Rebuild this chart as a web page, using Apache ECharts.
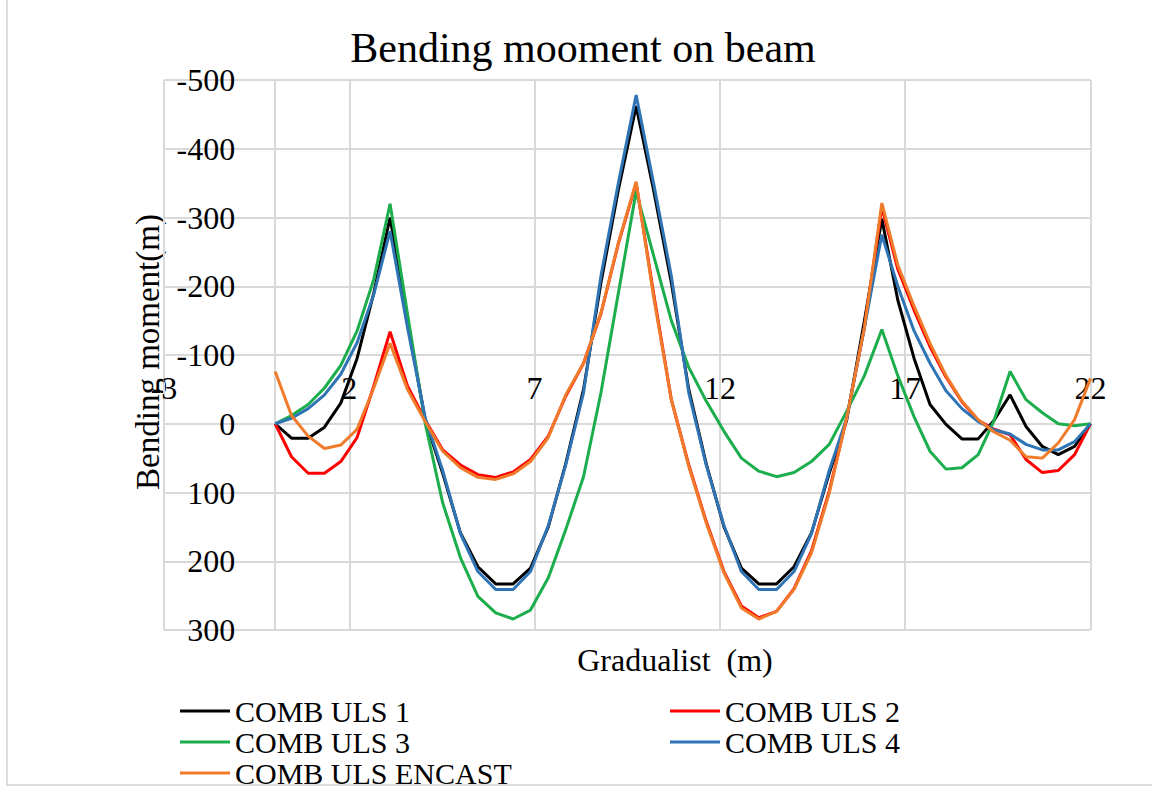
<!DOCTYPE html>
<html>
<head>
<meta charset="utf-8">
<title>Bending mooment on beam</title>
<script src="https://cdn.jsdelivr.net/npm/echarts@6/dist/echarts.min.js"></script>
<style>
  html, body { margin: 0; padding: 0; background: #ffffff; }
  #chart { width: 1152px; height: 789px; }
</style>
</head>
<body>
<div id="chart"></div>
<script>
// Stations along the beam (m)
const positions = [
  0, 0.44, 0.89, 1.33, 1.77, 2.21, 2.66, 3.10,
  3.57, 4.05, 4.52, 5.00, 5.47, 5.95, 6.42, 6.89, 7.37, 7.84, 8.32, 8.79, 9.26, 9.74,
  10.21, 10.69, 11.16, 11.63, 12.11, 12.58, 13.05, 13.53, 14.00, 14.47, 14.95, 15.42, 15.90, 16.37,
  16.80, 17.24, 17.67, 18.10, 18.53, 18.97, 19.40, 19.83,
  20.26, 20.70, 21.13, 21.57, 22.00
];

// Bending moment per load combination (negative = hogging)
const uls1 = [
  0, 21, 21, 5, -30, -95, -190, -300,
  -150, -5, 72, 159, 208, 233, 233, 210, 150, 58, -50, -205, -340, -462,
  -340, -205, -50, 58, 150, 210, 233, 233, 208, 159, 72, -5, -150, -298,
  -180, -95, -28, 1, 22, 22, -5, -42,
  4, 33, 45, 33, 0
];
const uls2 = [
  0, 48, 72, 72, 55, 20, -55, -134,
  -55, -5, 38, 60, 74, 78, 70, 52, 18, -40, -88, -160, -262, -350,
  -190, -35, 60, 142, 215, 265, 282, 273, 240, 185, 98, -8, -140, -315,
  -225, -165, -112, -68, -32, -5, 8, 16,
  52, 71, 68, 45, 0
];
const uls3 = [
  0, -12, -28, -52, -85, -135, -210, -320,
  -160, 0, 115, 195, 251, 275, 284, 271, 224, 154, 77, -45, -190, -338,
  -245, -150, -82, -33, 11, 50, 69, 77, 71, 55, 30, -18, -70, -137,
  -70, -10, 40, 66, 64, 45, -5, -76,
  -35, -16, 0, 3, 0
];
const uls4 = [
  0, -8, -22, -42, -72, -118, -188, -280,
  -140, -8, 68, 160, 215, 241, 241, 215, 148, 60, -45, -215, -350, -478,
  -350, -215, -45, 60, 148, 215, 241, 241, 215, 160, 68, -8, -140, -275,
  -200, -135, -88, -48, -22, -3, 9, 15,
  30, 38, 38, 26, 0
];
const ulsEncast = [
  -76, -12, 18, 36, 31, 8, -52, -117,
  -50, -3, 40, 64, 78, 81, 73, 55, 20, -42, -88, -161, -263, -352,
  -185, -35, 62, 144, 217, 268, 284, 273, 241, 188, 101, -8, -140, -321,
  -231, -171, -117, -70, -33, -6, 12, 24,
  48, 50, 28, -6, -66
];

const seriesNames = ['COMB ULS 1', 'COMB ULS 2', 'COMB ULS 3', 'COMB ULS 4', 'COMB ULS ENCAST'];
const seriesColors = ['#000000', '#ff0000', '#1cad4c', '#2f74b5', '#f07b2a'];
const seriesValues = [uls1, uls2, uls3, uls4, ulsEncast];

// Axis ranges and tick spacing
const xMin = -3, xMax = 22, xStep = 5;
const yMin = -500, yMax = 300, yStep = 100;

const FONT = '"Liberation Serif", "Times New Roman", serif';
const GRID = '#d9d9d9';

// Plot box
const W = 1152, H = 789;
const gridLeft = 164, gridRight = 61.5, gridTop = 80, gridBottom = 159;
const plotW = W - gridLeft - gridRight, plotH = H - gridTop - gridBottom;

// The two axes cross at the origin: shift each axis from its edge to the zero of the other one
const xAxisShift = -plotH * (0 - yMin) / (yMax - yMin);   // top edge down to y = 0
const yAxisShift = -plotW * (0 - xMin) / (xMax - xMin);   // left edge right to x = 0

const chart = echarts.init(document.getElementById('chart'), null, { renderer: 'svg' });

const series = seriesNames.map((name, k) => ({
  name: name,
  type: 'line',
  data: positions.map((x, i) => [x, seriesValues[k][i]]),
  symbol: 'none',
  smooth: false,
  lineStyle: { color: seriesColors[k], width: 3 },
  itemStyle: { color: seriesColors[k] },
  z: 3 + k
}));

const legendBase = {
  orient: 'horizontal', top: 696, width: 300, padding: 0,
  icon: 'rect', itemWidth: 50, itemHeight: 3, itemGap: 1,
  textStyle: { fontFamily: FONT, fontSize: 30, color: '#000' }
};

chart.setOption({
  animation: false,
  backgroundColor: '#ffffff',
  grid: { left: gridLeft, right: gridRight, top: gridTop, bottom: gridBottom, containLabel: false },
  xAxis: {
    type: 'value', min: xMin, max: xMax, interval: xStep,
    position: 'top', offset: xAxisShift,
    axisLine: { show: true, onZero: false, lineStyle: { color: GRID, width: 2 } },
    axisTick: { show: false },
    axisLabel: { fontFamily: FONT, fontSize: 32, color: '#000', margin: 20 },
    splitLine: { show: true, lineStyle: { color: GRID, width: 2 } }
  },
  yAxis: {
    type: 'value', min: yMin, max: yMax, interval: yStep,
    inverse: true,
    position: 'left', offset: yAxisShift,
    axisLine: { show: true, onZero: false, lineStyle: { color: GRID, width: 2 } },
    axisTick: { show: false },
    axisLabel: { fontFamily: FONT, fontSize: 32, color: '#000', margin: 40 },
    splitLine: { show: true, lineStyle: { color: GRID, width: 2 } }
  },
  legend: [
    Object.assign({ data: ['COMB ULS 1', 'COMB ULS 3', 'COMB ULS ENCAST'], left: 180 }, legendBase),
    Object.assign({ data: ['COMB ULS 2', 'COMB ULS 4'], left: 670 }, legendBase)
  ],
  graphic: [
    {
      type: 'rect', silent: true, z: -1,
      shape: { x: 7, y: -5, width: 1160, height: 790 },
      style: { fill: 'none', stroke: '#d0d0d0', lineWidth: 1.5 }
    },
    {
      type: 'text', x: 583, y: 48,
      style: { text: 'Bending mooment on beam', font: '42px ' + FONT, fill: '#000',
               textAlign: 'center', textVerticalAlign: 'middle' }
    },
    {
      type: 'text', x: 148, y: 352, rotation: Math.PI / 2,
      style: { text: 'Bending moment(m)', font: '33px ' + FONT, fill: '#000',
               textAlign: 'center', textVerticalAlign: 'middle' }
    },
    {
      type: 'text', x: 675, y: 660,
      style: { text: 'Gradualist\u00a0 (m)', font: '32px ' + FONT, fill: '#000',
               textAlign: 'center', textVerticalAlign: 'middle' }
    }
  ],
  series: series
});
</script>
</body>
</html>
